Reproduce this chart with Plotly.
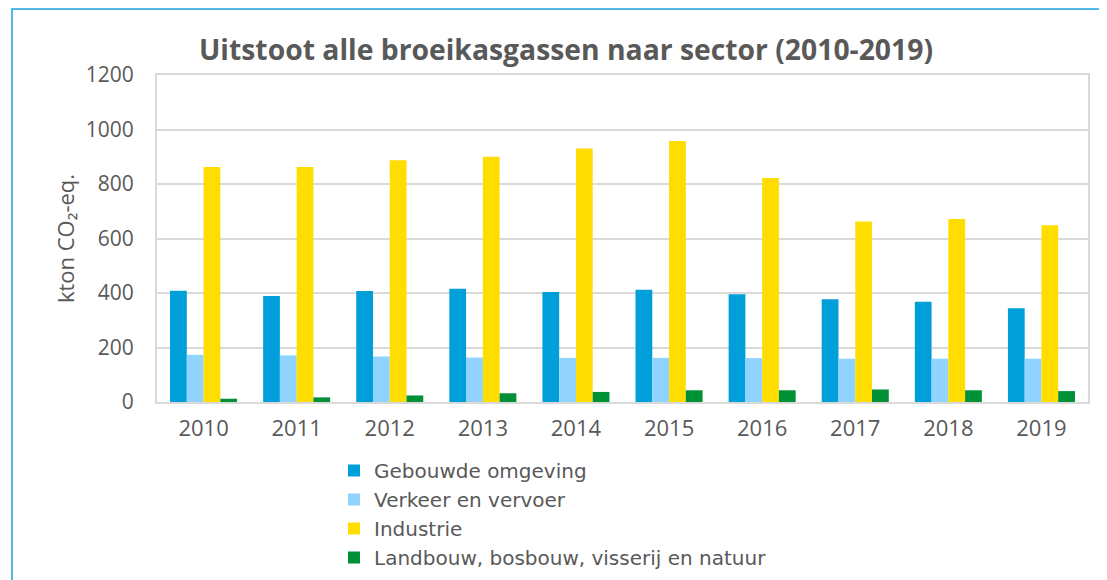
import plotly.graph_objects as go

years = ["2010", "2011", "2012", "2013", "2014", "2015", "2016", "2017", "2018", "2019"]
gebouwde_omgeving = [408, 389, 407, 416, 404, 412, 395, 377, 368, 344]
verkeer_en_vervoer = [173, 171, 167, 163, 162, 162, 161, 159, 159, 159]
industrie = [862, 862, 887, 900, 930, 958, 822, 662, 672, 649]
landbouw = [12, 17, 24, 32, 37, 43, 43, 46, 43, 40]

series = [
    ("Gebouwde omgeving", gebouwde_omgeving, "#009FDA"),
    ("Verkeer en vervoer", verkeer_en_vervoer, "#8FD3FE"),
    ("Industrie", industrie, "#FFDD00"),
    ("Landbouw, bosbouw, visserij en natuur", landbouw, "#009036"),
]

fig = go.Figure()
for name, vals, col in series:
    fig.add_trace(go.Bar(x=years, y=vals, name=name, marker_color=col,
                         marker_line_width=0))

OFF = 8  # page body margin
W, H = 1107 - OFF, 580 - OFF
L, T = 157 - OFF, 75 - OFF
R = W - (1088 - OFF)
B = H - (402 - OFF)
pw, ph = W - L - R, H - T - B

def px2x(px):
    return (px - OFF - L) / pw

def py2y(py):
    return (H - B - (py - OFF)) / ph

gray = "#595959"
fig.update_layout(
    width=W, height=H,
    margin=dict(l=L, r=R, t=T, b=B, autoexpand=False),
    paper_bgcolor="white", plot_bgcolor="white",
    barmode="group", bargap=0.28, bargroupgap=0,
    font=dict(family="Open Sans", color=gray, size=21),
    title=dict(text="<b>Uitstoot alle broeikasgassen naar sector (2010-2019)</b>",
               x=px2x(566), xref="paper", xanchor="center",
               y=1 - (50 - OFF) / H, yref="container", yanchor="middle",
               font=dict(family="Open Sans", size=28.3, color=gray)),
    legend=dict(orientation="v", x=px2x(334), xanchor="left",
                y=py2y(451), yanchor="top",
                font=dict(family="DejaVu Sans", size=20, color=gray),
                bgcolor="rgba(0,0,0,0)", itemwidth=30, tracegroupgap=0),
    xaxis=dict(showgrid=False, ticks="", tickfont=dict(size=22, color=gray),
               ticklabelstandoff=6,
               showline=True, linecolor="#D9D9D9", linewidth=2, mirror=True),
    yaxis=dict(range=[0, 1200], tickvals=[0, 200, 400, 600, 800, 1000, 1200],
               showgrid=True, gridcolor="#D9D9D9", gridwidth=1.5,
               showline=True, linecolor="#D9D9D9", linewidth=2, mirror=True,
               ticks="", ticklabelstandoff=17,
               tickfont=dict(size=21, color=gray),
               title=dict(text="kton CO₂-eq.", standoff=5,
                          font=dict(size=22, color=gray))),
    shapes=[dict(type="rect", xref="paper", yref="paper",
                 x0=px2x(12), x1=px2x(1104), y0=py2y(590), y1=py2y(9),
                 line=dict(color="#1BA1E2", width=1.5), layer="below")],
)

fig.write_html("out.html")
